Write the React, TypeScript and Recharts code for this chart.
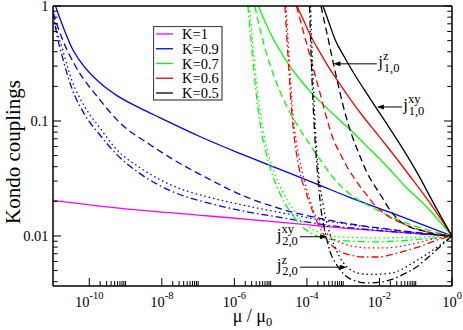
import { LineChart, Line, XAxis, YAxis, ReferenceLine, Legend } from "recharts";

type Pt = [number, number];

const FONT = "Liberation Serif, serif";

const kLabels = ["K=1", "K=0.9", "K=0.7", "K=0.6", "K=0.5"];
const kColors = ["#ff00ff", "#0000ff", "#00ff00", "#ff0000", "#000000"];

// tick positions
const xMajorTicks = [1e-10, 1e-8, 1e-6, 1e-4, 1e-2, 1];
const xMinorTicks = xMajorTicks.slice(0, -1).flatMap((m) => [2, 3, 4, 5, 6, 7, 8, 9, 10].map((k) => k * m));
const yMajorTicks = [0.01, 0.1, 1];
const yMinorTicks = [0.004, 0.005, 0.006, 0.007, 0.008, 0.009, 0.02, 0.03, 0.04, 0.05, 0.06, 0.07, 0.08, 0.09, 0.2, 0.3, 0.4, 0.5, 0.6, 0.7, 0.8, 0.9];

// K = 1 (all couplings equal)
const k1Solid: Pt[] = [[1e-11, 0.0204], [1e-9, 0.0172], [1e-7, 0.0152], [1e-5, 0.0134], [1e-3, 0.0117], [1e-1, 0.0105], [1, 0.01]];

// K = 0.9
const k09Solid: Pt[] = [[1.17e-11, 1], [1.42e-11, 0.844], [2.08e-11, 0.612], [3.18e-11, 0.445], [6.5e-11, 0.31], [1.92e-10, 0.216], [5.67e-10, 0.167], [2.45e-9, 0.13], [8.75e-9, 0.107], [1.11e-7, 0.0733], [1.42e-6, 0.0522], [1.81e-5, 0.0379], [2.3e-4, 0.0275], [1.28e-3, 0.0221], [1.98e-2, 0.016], [1, 0.01]];
const k09Dashed: Pt[] = [[1e-11, 0.878], [1.83e-11, 0.511], [3.93e-11, 0.31], [1.92e-10, 0.154], [6.87e-10, 0.097], [4.63e-9, 0.0625], [1.65e-8, 0.0482], [2.1e-7, 0.031], [1.42e-6, 0.023], [1.81e-5, 0.0173], [4.35e-4, 0.01364], [1.98e-2, 0.0114], [1, 0.01]];
const k09Dotted: Pt[] = [[1e-11, 0.932], [1.17e-11, 0.69], [1.83e-11, 0.419], [3.24e-11, 0.23], [7.41e-11, 0.134], [1.92e-10, 0.0878], [5.67e-10, 0.0565], [2.45e-9, 0.0394], [1.65e-8, 0.0281], [2.1e-7, 0.0216], [1.42e-6, 0.0188], [1.81e-5, 0.016], [4.35e-4, 0.01336], [1.98e-2, 0.0113], [1, 0.01]];
const k09DashDot: Pt[] = [[1e-11, 0.896], [1.17e-11, 0.65], [1.83e-11, 0.357], [3.24e-11, 0.196], [7.41e-11, 0.114], [1.92e-10, 0.0763], [5.67e-10, 0.0512], [2.45e-9, 0.035], [1.65e-8, 0.0249], [2.1e-7, 0.0192], [1.42e-6, 0.0167], [1.81e-5, 0.0145], [4.35e-4, 0.01233], [1.98e-2, 0.01094], [1, 0.01]];

// K = 0.7
const k07Solid: Pt[] = [[4.6e-6, 1], [6.96e-6, 0.733], [1.09e-5, 0.543], [1.81e-5, 0.41], [3.41e-5, 0.298], [6.44e-5, 0.2296], [1.22e-4, 0.181], [2.3e-4, 0.148], [8.2e-4, 0.101], [1.88e-3, 0.0794], [5.54e-3, 0.0565], [1.63e-2, 0.0402], [5.13e-2, 0.0269], [0.208, 0.0177], [1, 0.01]];
const k07Dashed: Pt[] = [[3.68e-6, 1], [4.75e-6, 0.69], [6.53e-6, 0.463], [9.57e-6, 0.31], [1.81e-5, 0.181], [3.41e-5, 0.1186], [6.44e-5, 0.0843], [1.36e-4, 0.0588], [2.3e-4, 0.0463], [5.26e-4, 0.0323], [1.55e-3, 0.023], [5.54e-3, 0.0181], [1.98e-2, 0.0148], [8.53e-2, 0.01233], [0.346, 0.0108], [1, 0.01]];
const k07Dotted: Pt[] = [[2.6e-6, 1], [3.35e-6, 0.419], [4.6e-6, 0.154], [6.53e-6, 0.0763], [8.98e-6, 0.0491], [1.32e-5, 0.0343], [2.19e-5, 0.0239], [3.87e-5, 0.0177], [6.44e-5, 0.0142], [1.22e-4, 0.01186], [2.78e-4, 0.0104], [8.2e-4, 0.0098], [2.42e-3, 0.00968], [6.7e-3, 0.00961], [5.82e-2, 0.0097], [0.393, 0.0099], [1, 0.01]];
const k07DashDot: Pt[] = [[2.36e-6, 1], [3.04e-6, 0.419], [4.18e-6, 0.154], [5.75e-6, 0.0763], [7.91e-6, 0.0491], [1.09e-5, 0.035], [1.81e-5, 0.0234], [3.41e-5, 0.0163], [6.44e-5, 0.01259], [1.22e-4, 0.01072], [2.78e-4, 0.00961], [8.2e-4, 0.00914], [2.42e-3, 0.00896], [7.61e-3, 0.00887], [1.98e-2, 0.00896], [0.161, 0.00941], [0.475, 0.0097], [1, 0.01]];

// K = 0.6
const k06Solid: Pt[] = [[5.32e-5, 1], [8.87e-5, 0.704], [1.38e-4, 0.522], [2.3e-4, 0.394], [4.35e-4, 0.281], [8.2e-4, 0.208], [1.65e-3, 0.151], [3.55e-3, 0.1094], [7.61e-3, 0.081], [1.63e-2, 0.06], [7.05e-2, 0.0329], [0.286, 0.0181], [1, 0.01]];
const k06Dashed: Pt[] = [[5.16e-5, 1], [7.32e-5, 0.663], [1.07e-4, 0.427], [1.57e-4, 0.272], [2.56e-4, 0.154], [3.59e-4, 0.1031], [5.36e-4, 0.0691], [8.2e-4, 0.0522], [1.26e-3, 0.0402], [1.88e-3, 0.0329], [2.93e-3, 0.0269], [4.57e-3, 0.0225], [6.7e-3, 0.0192], [1.05e-2, 0.0167], [1.98e-2, 0.0145], [3.73e-2, 0.0131], [0.161, 0.01105], [0.475, 0.0103], [1, 0.01]];
const k06Dotted: Pt[] = [[2.65e-5, 1], [3.01e-5, 0.511], [3.52e-5, 0.2296], [4.13e-5, 0.114], [5e-5, 0.0691], [6.25e-5, 0.0463], [8.05e-5, 0.0323], [1.07e-4, 0.0234], [1.48e-4, 0.017], [2.3e-4, 0.01259], [4.35e-4, 0.0099], [9.93e-4, 0.0086], [2.42e-3, 0.00802], [5.54e-3, 0.00786], [1.27e-2, 0.00786], [7.05e-2, 0.00843], [0.304, 0.00941], [1, 0.01]];
const k06DashDot: Pt[] = [[2.48e-5, 1], [2.82e-5, 0.511], [3.31e-5, 0.2296], [3.87e-5, 0.114], [4.54e-5, 0.0691], [5.5e-5, 0.0463], [6.87e-5, 0.0323], [8.87e-5, 0.0254], [1.22e-4, 0.0188], [1.78e-4, 0.0139], [2.78e-4, 0.01051], [4.93e-4, 0.00826], [8.2e-4, 0.00733], [1.76e-3, 0.00677], [3.55e-3, 0.00656], [9.21e-3, 0.00656], [1.98e-2, 0.00684], [5.13e-2, 0.0074], [0.11, 0.00794], [0.393, 0.00923], [1, 0.01]];

// K = 0.5
const k05Solid: Pt[] = [[2.78e-4, 1], [3.95e-4, 0.733], [5.97e-4, 0.511], [1.06e-3, 0.364], [1.91e-3, 0.264], [3.78e-3, 0.188], [7.61e-3, 0.1337], [1.53e-2, 0.0961], [3.03e-2, 0.0691], [0.108, 0.0357], [0.346, 0.0181], [1, 0.01]];
const k05Dashed: Pt[] = [[2.45e-4, 1], [3.06e-4, 0.719], [3.9e-4, 0.511], [5.36e-4, 0.316], [7.23e-4, 0.208], [1.01e-3, 0.1337], [1.36e-3, 0.0951], [1.91e-3, 0.0691], [2.93e-3, 0.0491], [4.49e-3, 0.0357], [7.61e-3, 0.0269], [1.19e-2, 0.0216], [1.98e-2, 0.0167], [3.29e-2, 0.0139], [5.82e-2, 0.01222], [0.161, 0.01105], [0.419, 0.0102], [1, 0.01]];
const k05Dotted: Pt[] = [[1.26e-4, 1], [1.48e-4, 0.2296], [1.78e-4, 0.0691], [2.16e-4, 0.0323], [2.78e-4, 0.0188], [3.83e-4, 0.01186], [5.97e-4, 0.00794], [9.93e-4, 0.00589], [1.55e-3, 0.00511], [2.42e-3, 0.00477], [5.54e-3, 0.00463], [1.44e-2, 0.00468], [3.08e-2, 0.00491], [7.05e-2, 0.00565], [0.161, 0.00663], [0.346, 0.00778], [1, 0.01]];
const k05DashDot: Pt[] = [[1.18e-4, 1], [1.38e-4, 0.2296], [1.67e-4, 0.0691], [2.03e-4, 0.031], [2.45e-4, 0.017], [3.16e-4, 0.01094], [4.35e-4, 0.00733], [6.78e-4, 0.00554], [1.13e-3, 0.00454], [2.13e-3, 0.00406], [4.03e-3, 0.0039], [9.21e-3, 0.00394], [1.98e-2, 0.00414], [5.13e-2, 0.00472], [0.11, 0.00543], [0.252, 0.00677], [0.475, 0.0081], [1, 0.01]];

// arrow annotations: label, start point, arrow tip
const notes = [
  { sup: "z", sub: "1,0", from: [8.47e-3, 0.314], to: [5.36e-4, 0.314], dx: 1.5 },
  { sup: "xy", sub: "1,0", from: [4.16e-2, 0.1324], to: [8.47e-3, 0.1324], dx: 1.3 },
  { sup: "xy", sub: "2,0", from: [6.44e-5, 0.00984], to: [3.59e-4, 0.00984], dx: -23.3 },
  { sup: "z", sub: "2,0", from: [6.44e-5, 0.00535], to: [1.26e-3, 0.00535], dx: -23.3 },
];

const DASHED = "7 4";
const DOTTED = "1.5 3";
const DASHDOT = "7 3 1.5 3";

const series = [
  { pts: k1Solid, color: kColors[0] },
  { pts: k09Solid, color: kColors[1] },
  { pts: k09Dashed, color: kColors[1], dash: DASHED },
  { pts: k09Dotted, color: kColors[1], dash: DOTTED },
  { pts: k09DashDot, color: kColors[1], dash: DASHDOT },
  { pts: k07Solid, color: kColors[2] },
  { pts: k07Dashed, color: kColors[2], dash: DASHED },
  { pts: k07Dotted, color: kColors[2], dash: DOTTED },
  { pts: k07DashDot, color: kColors[2], dash: DASHDOT },
  { pts: k06Solid, color: kColors[3] },
  { pts: k06Dashed, color: kColors[3], dash: DASHED },
  { pts: k06Dotted, color: kColors[3], dash: DOTTED },
  { pts: k06DashDot, color: kColors[3], dash: DASHDOT },
  { pts: k05Solid, color: kColors[4] },
  { pts: k05Dashed, color: kColors[4], dash: DASHED },
  { pts: k05Dotted, color: kColors[4], dash: DOTTED },
  { pts: k05DashDot, color: kColors[4], dash: DASHDOT },
];

const toRows = (pts: Pt[]) => pts.map(([x, y]) => ({ x, y }));

const X_DOMAIN = [1e-11, 1];
const Y_DOMAIN = [0.00367, 1];

function BottomTick(props: any) {
  const { x, y, payload } = props;
  const major = xMajorTicks.includes(payload.value);
  const exp = Math.round(Math.log10(payload.value));
  return (
    <g>
      <line x1={x} x2={x} y1={y} y2={y - (major ? 8 : 5)} stroke="#000" strokeWidth={1} />
      {major && (
        <text x={x} y={y + 20.7} textAnchor="middle" fontFamily={FONT} fontSize={14.5} fill="#000">
          10<tspan dy={-8} fontSize={10.5}>{exp}</tspan>
        </text>
      )}
    </g>
  );
}

function TopTick(props: any) {
  const { x, y, payload } = props;
  const major = xMajorTicks.includes(payload.value);
  return <line x1={x} x2={x} y1={y} y2={y + (major ? 8 : 5)} stroke="#000" strokeWidth={1} />;
}

function LeftTick(props: any) {
  const { x, y, payload } = props;
  const major = yMajorTicks.includes(payload.value);
  return (
    <g>
      <line x1={x} x2={x + (major ? 8 : 4.7)} y1={y} y2={y} stroke="#000" strokeWidth={1} />
      {major && (
        <text x={x - 4.5} y={y} dy="0.35em" textAnchor="end" fontFamily={FONT} fontSize={14.5} fill="#000">
          {String(payload.value)}
        </text>
      )}
    </g>
  );
}

function RightTick(props: any) {
  const { x, y, payload } = props;
  const major = yMajorTicks.includes(payload.value);
  return <line x1={x} x2={x - (major ? 8 : 4.7)} y1={y} y2={y} stroke="#000" strokeWidth={1} />;
}

function Arrow(props: any) {
  const { x1, y1, x2, y2, note } = props;
  const dir = x2 > x1 ? 1 : -1;
  const tx = x1 + note.dx;
  const ty = y1 + 3;
  return (
    <g>
      <line x1={x1} y1={y1} x2={x2 - dir * 5} y2={y2} stroke="#000" strokeWidth={1} />
      <path d={`M${x2},${y2} L${x2 - dir * 7},${y2 - 2.5} L${x2 - dir * 7},${y2 + 2.5} Z`} fill="#000" />
      <text x={tx} y={ty} fontFamily={FONT} fontSize={17} fill="#000">
        j
        <tspan dy={-6.5} fontSize={12.5}>{note.sup}</tspan>
        <tspan x={tx + 5.5} dy={11.5} fontSize={12.5}>{note.sub}</tspan>
      </text>
    </g>
  );
}

function KLegend() {
  return (
    <svg width={70} height={75} style={{ display: "block" }}>
      <rect x={0.5} y={0.5} width={68.5} height={73.5} fill="#fff" stroke="#444" strokeWidth={1.2} />
      {kLabels.map((k, i) => {
        const cy = 8 + i * 14.75;
        return (
          <g key={k}>
            <line x1={3} x2={20} y1={cy} y2={cy} stroke={kColors[i]} strokeWidth={1.3} />
            <text x={29} y={cy + 5} fontFamily={FONT} fontSize={14.5} fill="#000">{k}</text>
          </g>
        );
      })}
    </svg>
  );
}

export default function App() {
  return (
    <div style={{ position: "absolute", left: 0, top: 0, background: "#fff", fontFamily: FONT }}>
      <LineChart width={463} height={330} margin={{ top: 5, right: 10, bottom: 43, left: 52 }}>
        <XAxis
          xAxisId="b"
          dataKey="x"
          type="number"
          scale="log"
          domain={X_DOMAIN}
          allowDataOverflow
          ticks={[...xMajorTicks, ...xMinorTicks]}
          interval={0}
          height={1}
          tickSize={0}
          tickMargin={0}
          tickLine={false}
          tick={<BottomTick />}
          axisLine={{ stroke: "#000", strokeWidth: 1.5 }}
          label={{
            content: ({ viewBox }: any) => (
              <text x={viewBox.x + viewBox.width / 2} y={viewBox.y + 36} textAnchor="middle" fontFamily={FONT} fontSize={18} fill="#000">
                μ / μ<tspan dy={4} fontSize={12.5}>0</tspan>
              </text>
            ),
          }}
        />
        <XAxis
          xAxisId="t"
          orientation="top"
          type="number"
          scale="log"
          domain={X_DOMAIN}
          allowDataOverflow
          ticks={[...xMajorTicks, ...xMinorTicks]}
          interval={0}
          height={1}
          tickSize={0}
          tickMargin={0}
          tickLine={false}
          tick={<TopTick />}
          axisLine={{ stroke: "#000", strokeWidth: 1.5 }}
        />
        <YAxis
          yAxisId="l"
          dataKey="y"
          type="number"
          scale="log"
          domain={Y_DOMAIN}
          allowDataOverflow
          ticks={[...yMajorTicks, ...yMinorTicks]}
          interval={0}
          width={1}
          tickSize={0}
          tickMargin={0}
          tickLine={false}
          tick={<LeftTick />}
          axisLine={{ stroke: "#000", strokeWidth: 1.5 }}
          label={{
            content: ({ viewBox }: any) => (
              <text
                transform={`translate(20, ${viewBox.y + viewBox.height / 2 + 6}) rotate(-90)`}
                textAnchor="middle"
                fontFamily={FONT}
                fontSize={21}
                fill="#000"
              >
                Kondo couplings
              </text>
            ),
          }}
        />
        <YAxis
          yAxisId="r"
          orientation="right"
          type="number"
          scale="log"
          domain={Y_DOMAIN}
          allowDataOverflow
          ticks={[...yMajorTicks, ...yMinorTicks]}
          interval={0}
          width={1}
          tickSize={0}
          tickMargin={0}
          tickLine={false}
          tick={<RightTick />}
          axisLine={{ stroke: "#000", strokeWidth: 1.5 }}
        />
        {series.map((s, i) => (
          <Line
            key={i}
            xAxisId="b"
            yAxisId="l"
            data={toRows(s.pts)}
            dataKey="y"
            type="monotone"
            stroke={s.color}
            strokeWidth={1.3}
            strokeDasharray={s.dash}
            dot={false}
            activeDot={false}
            isAnimationActive={false}
          />
        ))}
        {notes.map((n, i) => (
          <ReferenceLine
            key={`n${i}`}
            xAxisId="b"
            yAxisId="l"
            segment={[
              { x: n.from[0], y: n.from[1] },
              { x: n.to[0], y: n.to[1] },
            ]}
            ifOverflow="visible"
            shape={(p: any) => <Arrow {...p} note={n} />}
          />
        ))}
        <Legend
          layout="vertical"
          align="center"
          verticalAlign="middle"
          wrapperStyle={{ left: 153, top: 26, width: 70, height: 75 }}
          content={() => <KLegend />}
        />
      </LineChart>
    </div>
  );
}
